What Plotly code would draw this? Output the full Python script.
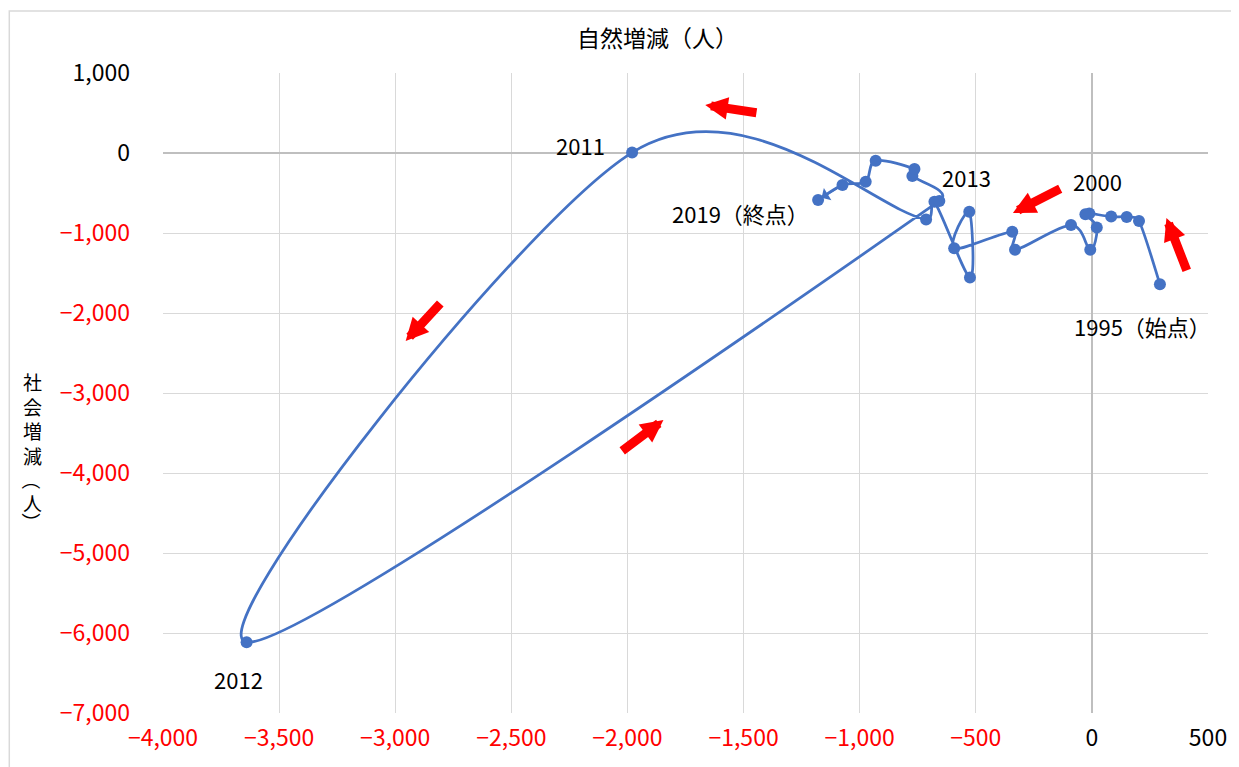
import math
import plotly.graph_objects as go

# 自然増減 / 社会増減 (1995-2019)
years = list(range(1995, 2020))
natural = [293, 203, 150, 83, -11, -28, 21, -7, -90, -331, -343, -593, -528,
           -525, -678, -714, -1980, -3640, -657, -773, -764, -931, -974, -1074, -1179]
social = [-1640, -850, -800, -795, -755, -765, -930, -1210, -900, -1210, -985, -1190, -735,
          -1555, -610, -830, 5, -6115, -600, -287, -200, -96, -359, -400, -587]

label_years = [1995, 2000, 2011, 2012, 2013, 2019]
label_texts = ["1995（始点）", "2000", "2011", "2012", "2013", "2019（終点）"]

x_ticks = [-4000, -3500, -3000, -2500, -2000, -1500, -1000, -500, 0, 500]
y_ticks = [-7000, -6000, -5000, -4000, -3000, -2000, -1000, 0, 1000]
x_range = [-4000, 500]
y_range = [-7000, 1000]

x_title = "自然増減（人）"
y_title = "社会増減（人）"

# direction arrows (tail -> head), data units
arrow_tail = [(-1438, 500), (-2800, -1862), (-2029, -3737), (-130, -437), (411, -1487)]
arrow_head = [(-1665, 600), (-2955, -2350), (-1845, -3337), (-340, -750), (321, -812)]

BLUE = "#4472C4"
JP = "Noto Sans CJK JP"

# plot area in pixels (figure coords): left 155, top 65, 1047 x 640
PL, PT, PW, PH = 155, 65, 1047, 640
SX = PW / (x_range[1] - x_range[0])
SY = PH / (y_range[1] - y_range[0])


def px_x(p):
    return (p - PL) / PW


def px_y(p):
    return (PT + PH - p) / PH


def fmt(v):
    s = f"{abs(v):,}"
    if v < 0:
        return f'<span style="color:#FF0000">−{s}</span>'
    return s


def ctrl(p, vx, vy, seg):
    # control handle from p along (vx, vy), capped at half the segment length (in px)
    L = math.hypot(vx * SX, vy * SY)
    cap = 0.5 * seg
    if L > cap and L > 0:
        vx, vy = vx * cap / L, vy * cap / L
    return p[0] + vx, p[1] + vy


def smooth_path(xs, ys):
    # Excel-style smoothed line: Catmull-Rom segments as cubic Bezier (data coords)
    pts = list(zip(xs, ys))
    n = len(pts)
    d = f"M {pts[0][0]},{pts[0][1]}"
    for i in range(n - 1):
        p0 = pts[max(i - 1, 0)]
        p1, p2 = pts[i], pts[i + 1]
        p3 = pts[min(i + 2, n - 1)]
        seg = math.hypot((p2[0] - p1[0]) * SX, (p2[1] - p1[1]) * SY)
        c1 = ctrl(p1, (p2[0] - p0[0]) / 6, (p2[1] - p0[1]) / 6, seg)
        c2 = ctrl(p2, -(p3[0] - p1[0]) / 6, -(p3[1] - p1[1]) / 6, seg)
        d += f" C {c1[0]:.1f},{c1[1]:.1f} {c2[0]:.1f},{c2[1]:.1f} {p2[0]},{p2[1]}"
    return d


fig = go.Figure()
fig.add_shape(type="path", xref="x", yref="y", path=smooth_path(natural, social),
              line=dict(color=BLUE, width=2.75), layer="between")
fig.add_trace(go.Scatter(
    x=natural, y=social, mode="markers",
    marker=dict(color=BLUE, size=12),
    text=years, hoverinfo="text+x+y", showlegend=False,
))

shifts = {1995: (-17, -42), 2000: (12, 33), 2011: (-52, 8),
          2012: (-8, -37), 2013: (27, 24), 2019: (-78, -13)}
for yr, txt in zip(label_years, label_texts):
    i = years.index(yr)
    dx, dy = shifts[yr]
    fig.add_annotation(x=natural[i], y=social[i], text=txt, showarrow=False,
                       xanchor="center", yanchor="middle",
                       xshift=dx, yshift=dy, font=dict(family=JP, size=22, color="black"))

for (tx, ty), (hx, hy) in zip(arrow_tail, arrow_head):
    fig.add_annotation(x=hx, y=hy, ax=tx, ay=ty, xref="x", yref="y", axref="x", ayref="y",
                       text="", showarrow=True, arrowhead=2, arrowsize=0.5,
                       arrowwidth=9, arrowcolor="#FF0000")

# small end arrow at 2019
fig.add_annotation(x=natural[-1], y=social[-1], ax=natural[-2], ay=social[-2],
                   xref="x", yref="y", axref="x", ayref="y", text="", showarrow=True,
                   arrowhead=1, arrowsize=1.2, arrowwidth=2, arrowcolor=BLUE, standoff=4)

fig.add_annotation(x=px_x(650), y=px_y(29), xref="paper", yref="paper", text=x_title,
                   xanchor="center", yanchor="middle",
                   showarrow=False, font=dict(family=JP, size=23, color="black"))

# vertical y title: kanji block, then rotated brackets around 人
yx = px_x(24)
fig.add_annotation(x=yx, y=px_y(410), xref="paper", yref="paper",
                   text="<br>".join(y_title[:4]), showarrow=False,
                   xanchor="center", yanchor="middle", borderpad=0,
                   font=dict(family=JP, size=19, color="black"))
for ch, py, ang in [(y_title[4], 472, 90), (y_title[5], 494, 0), (y_title[6], 514, 90)]:
    fig.add_annotation(x=yx, y=px_y(py), xref="paper", yref="paper", text=ch,
                       textangle=ang, showarrow=False, borderpad=0,
                       xanchor="center", yanchor="middle",
                       font=dict(family=JP, size=19, color="black"))

fig.add_shape(type="rect", xref="paper", yref="paper",
              x0=px_x(1), x1=px_x(1300), y0=px_y(800), y1=px_y(3),
              line=dict(color="#D9D9D9", width=1.5), layer="below")

fig.update_xaxes(range=x_range, tickvals=x_ticks, ticktext=[fmt(v) for v in x_ticks],
                 showgrid=True, gridcolor="#D9D9D9", gridwidth=1,
                 zeroline=True, zerolinecolor="#BFBFBF", zerolinewidth=1.5,
                 showline=False, ticks="", ticklabelstandoff=9,
                 tickfont=dict(family=JP, size=23, color="black"))
fig.update_yaxes(range=y_range, tickvals=y_ticks, ticktext=[fmt(v) for v in y_ticks],
                 showgrid=True, gridcolor="#D9D9D9", gridwidth=1,
                 zeroline=True, zerolinecolor="#BFBFBF", zerolinewidth=1.5,
                 showline=False, ticks="", ticklabelstandoff=32,
                 tickfont=dict(family=JP, size=23, color="black"))

fig.update_layout(width=1231, height=759, plot_bgcolor="white", paper_bgcolor="white",
                  margin=dict(l=PL, r=1231 - PL - PW, t=PT, b=759 - PT - PH))

fig.write_html("out.html")
